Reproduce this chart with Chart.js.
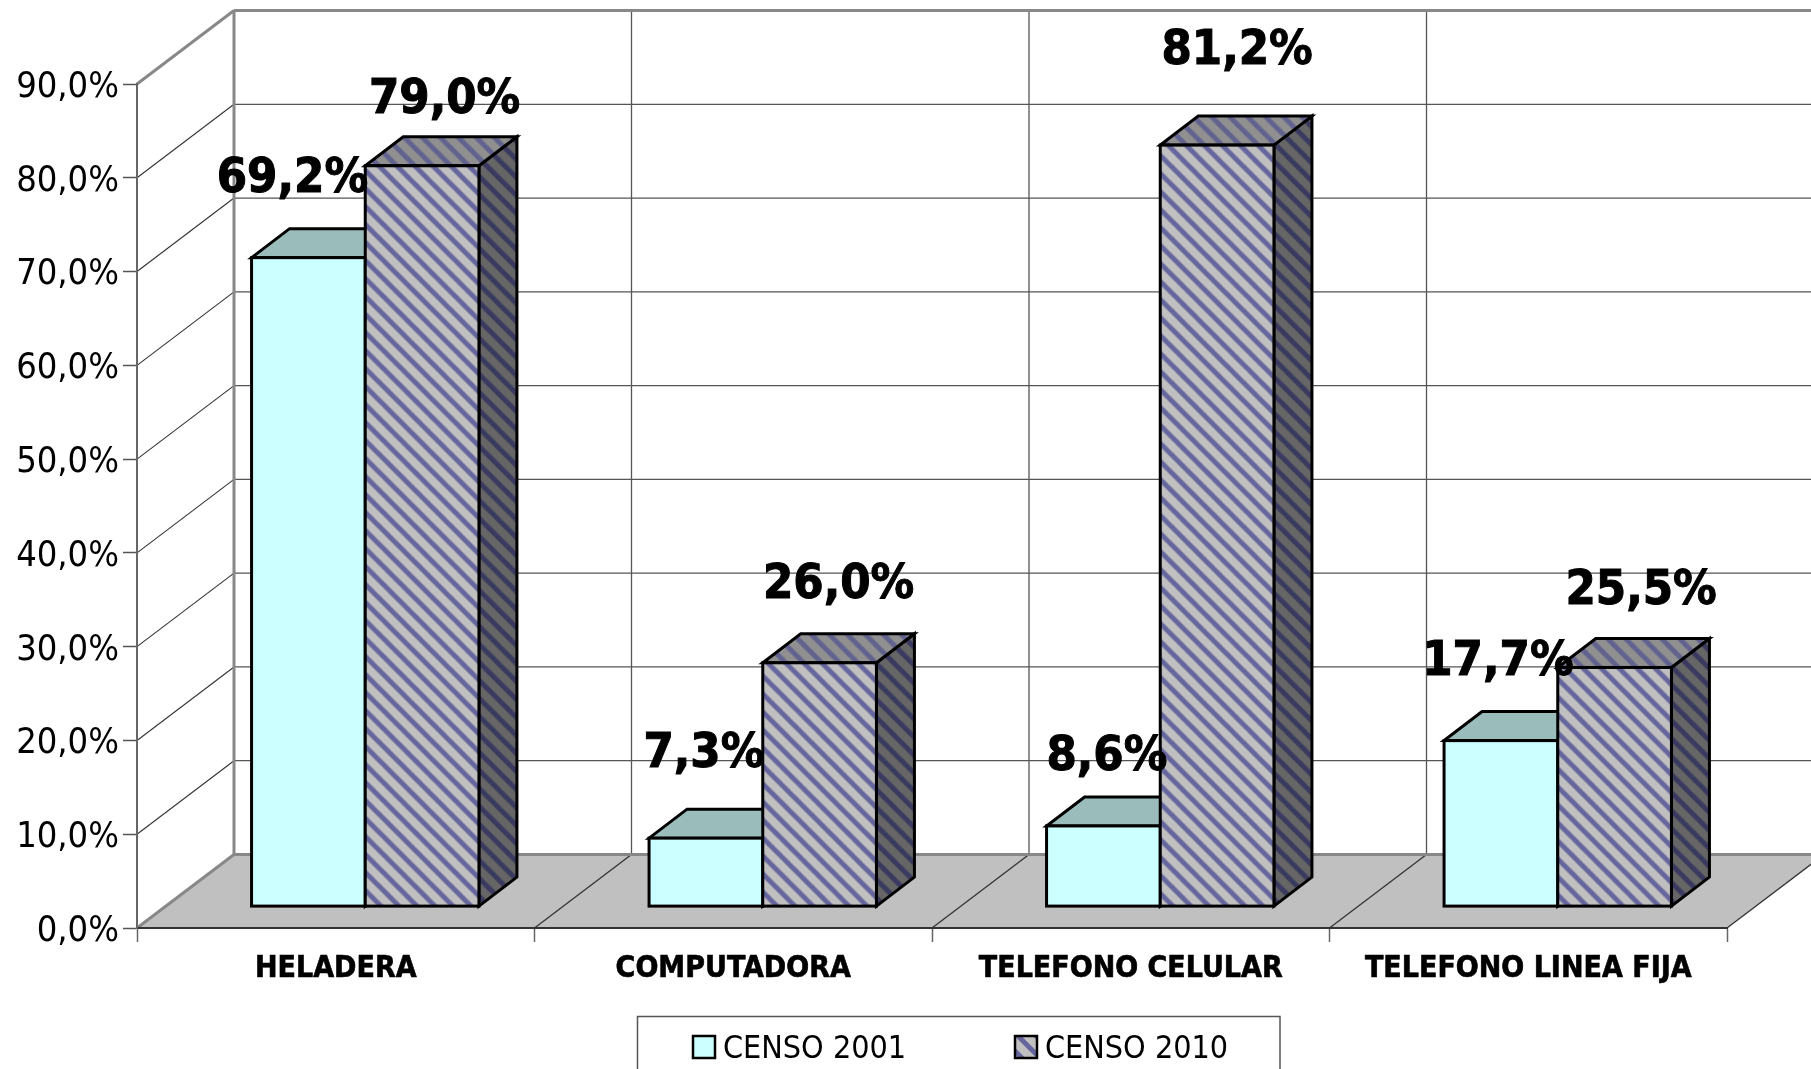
<!DOCTYPE html>
<html>
<head>
<meta charset="utf-8">
<style>html,body{margin:0;padding:0;background:#fff;overflow:hidden}canvas{display:block}</style>
<script src="https://cdn.jsdelivr.net/npm/chart.js@4/dist/chart.umd.min.js"></script>
</head>
<body>
<canvas id="c" width="1811" height="1069"></canvas>
<script>
const categories = ['HELADERA', 'COMPUTADORA', 'TELEFONO CELULAR', 'TELEFONO LINEA FIJA'];
const seriesNames = ['CENSO 2001', 'CENSO 2010'];
const censo2001 = [69.2, 7.3, 8.6, 17.7];
const censo2010 = [79.0, 26.0, 81.2, 25.5];
const yTicks = [0, 10, 20, 30, 40, 50, 60, 70, 80, 90];

const FONT = '"DejaVu Sans Condensed","DejaVu Sans",sans-serif';
const WALL = {dx: 97, dy: -73.5};
const BAR = {dx: 38, dy: -29};
const SHIFT = {dx: 29.5, dy: -21.4};
const LABEL_NUDGE = [
  [[-16,-78],[-2,-84],[3.5,-69],[-3,-78]],
  [[22.5,-65],[19,-77],[20,-94],[26.5,-76]]
];
const pct = v => v.toFixed(1).replace('.', ',') + '%';

function stripes(bg, fg) {
  const n = 18, p = document.createElement('canvas');
  p.width = n; p.height = n;
  const g = p.getContext('2d');
  g.fillStyle = bg; g.fillRect(0, 0, n, n);
  g.strokeStyle = fg; g.lineWidth = 4.8;
  for (const o of [-n, 0, n]) {
    g.beginPath(); g.moveTo(o - 2, -2); g.lineTo(o + n + 2, n + 2); g.stroke();
  }
  return document.getElementById('c').getContext('2d').createPattern(p, 'repeat');
}
const pFront = stripes('#c0c0c0', '#66669f');
const pTop = stripes('#909090', '#62628f');
const pSide = stripes('#666666', '#3a3a60');

const faces = [
  {top: '#9abdbb', side: '#7a9999'},
  {top: pTop, side: pSide}
];

function poly(ctx, pts, fill, stroke, lw) {
  ctx.beginPath();
  pts.forEach((p, i) => i ? ctx.lineTo(p[0], p[1]) : ctx.moveTo(p[0], p[1]));
  ctx.closePath();
  if (fill) { ctx.fillStyle = fill; ctx.fill(); }
  if (stroke) { ctx.strokeStyle = stroke; ctx.lineWidth = lw; ctx.lineJoin = 'miter'; ctx.stroke(); }
}
function seg(ctx, a, b, c, d, col, lw) {
  ctx.beginPath(); ctx.moveTo(a, b); ctx.lineTo(c, d);
  ctx.strokeStyle = col; ctx.lineWidth = lw; ctx.stroke();
}

const box3d = {
  id: 'box3d',
  beforeDraw(chart) {
    const ctx = chart.ctx, x = chart.scales.x, y = chart.scales.y;
    const W = chart.width, x0 = x.left, x1 = x.right, y0 = y.getPixelForValue(0);
    if (!y._labelsNudged) {
      y.getLabelItems().forEach(it => { it.options.translation[1] += 3.5; });
      y._labelsNudged = true;
    }
    ctx.save();
    poly(ctx, [[x0,y0],[x1,y0],[x1+WALL.dx,y0+WALL.dy],[x0+WALL.dx,y0+WALL.dy]], '#c0c0c0');
    yTicks.forEach(v => {
      const py = y.getPixelForValue(v);
      if (v > 0 && v < 90) {
        seg(ctx, x0+WALL.dx, py+WALL.dy, W, py+WALL.dy, '#555', 1.3);
        seg(ctx, x0, py, x0+WALL.dx, py+WALL.dy, '#333', 1.1);
      }
    });
    for (let i = 1; i <= categories.length; i++) {
      const px = x0 + i * (x1 - x0) / categories.length;
      if (i < categories.length) {
        seg(ctx, px+WALL.dx, y.getPixelForValue(90)+WALL.dy, px+WALL.dx, y0+WALL.dy, '#555', 1.3);
      }
      seg(ctx, px, y0, px+WALL.dx, y0+WALL.dy, '#333', 1.3);
    }
    const top = y.getPixelForValue(90);
    seg(ctx, x0+WALL.dx, y0+WALL.dy, W, y0+WALL.dy, '#888', 3);
    seg(ctx, x0+WALL.dx, top+WALL.dy, W, top+WALL.dy, '#888', 3);
    seg(ctx, x0+WALL.dx, top+WALL.dy, x0+WALL.dx, y0+WALL.dy, '#888', 3);
    seg(ctx, x0, top, x0+WALL.dx, top+WALL.dy, '#888', 3);
    seg(ctx, x0, y0, x0+WALL.dx, y0+WALL.dy, '#888', 3);
    ctx.restore();
  },
  beforeDatasetsDraw(chart) {
    const ctx = chart.ctx;
    ctx.save();
    ctx.translate(SHIFT.dx, SHIFT.dy);
    chart.data.datasets.forEach((ds, d) => {
      const meta = chart.getDatasetMeta(d), f = faces[d];
      meta.data.forEach(el => {
        const {x, y, base, width} = el.getProps(['x','y','base','width'], true);
        const l = x - width/2, r = x + width/2;
        poly(ctx, [[r,base],[r+BAR.dx,base+BAR.dy],[r+BAR.dx,y+BAR.dy],[r,y]], f.side, '#000', 3);
        poly(ctx, [[l,y],[r,y],[r+BAR.dx,y+BAR.dy],[l+BAR.dx,y+BAR.dy]], f.top, '#000', 3);
      });
      meta.controller.draw();
      meta.data.forEach(el => {
        const {x, y, base, width} = el.getProps(['x','y','base','width'], true);
        ctx.strokeStyle = '#000'; ctx.lineWidth = 3;
        ctx.strokeRect(x - width/2, y, width, base - y);
      });
    });
    ctx.restore();
    return false;
  },
  afterDraw(chart) {
    const ctx = chart.ctx;
    ctx.save();
    ctx.font = 'bold 48.5px ' + FONT;
    ctx.fillStyle = '#000';
    ctx.strokeStyle = '#000';
    ctx.lineWidth = 1;
    ctx.textAlign = 'center';
    ctx.textBaseline = 'middle';
    chart.data.datasets.forEach((ds, d) => {
      chart.getDatasetMeta(d).data.forEach((el, i) => {
        const n = LABEL_NUDGE[d][i], s = pct(ds.data[i]);
        ctx.fillText(s, el.x + SHIFT.dx + n[0], el.y + SHIFT.dy + n[1]);
        ctx.strokeText(s, el.x + SHIFT.dx + n[0], el.y + SHIFT.dy + n[1]);
      });
    });
    const lx = 637.5, ly = 1016.5;
    ctx.strokeStyle = '#555'; ctx.lineWidth = 1.5;
    ctx.strokeRect(lx, ly, 642.5, 100);
    ctx.font = '32px ' + FONT;
    ctx.textAlign = 'left';
    const swatchX = [693, 1015], swatchFill = ['#ccffff', pFront];
    seriesNames.forEach((name, i) => {
      ctx.fillStyle = swatchFill[i];
      ctx.fillRect(swatchX[i], 1036, 22, 22);
      ctx.strokeStyle = '#000'; ctx.lineWidth = 2.5;
      ctx.strokeRect(swatchX[i], 1036, 22, 22);
      ctx.fillStyle = '#000';
      ctx.fillText(name, swatchX[i] + 30, 1050);
    });
    ctx.restore();
  }
};

new Chart(document.getElementById('c'), {
  type: 'bar',
  data: {
    labels: categories,
    datasets: [
      {label: seriesNames[0], data: censo2001, backgroundColor: '#ccffff', borderWidth: 0, clip: false},
      {label: seriesNames[1], data: censo2010, backgroundColor: pFront, borderWidth: 0, clip: false}
    ]
  },
  options: {
    responsive: false,
    animation: false,
    devicePixelRatio: 1,
    layout: {autoPadding: false, padding: {top: 84, left: 0, right: 84, bottom: 0}},
    categoryPercentage: 0.572,
    barPercentage: 1,
    plugins: {legend: {display: false}, tooltip: {enabled: false}, title: {display: false}},
    scales: {
      x: {
        type: 'category',
        afterFit(s) { s.height = 141; },
        border: {display: true, color: '#333', width: 2},
        grid: {drawOnChartArea: false, drawTicks: true, tickLength: 14, tickColor: '#666', tickWidth: 1.5},
        ticks: {color: '#000', padding: 9, maxRotation: 0, minRotation: 0, textStrokeColor: '#000', textStrokeWidth: 0.6,
                font: {family: FONT, weight: 'bold', size: 30}}
      },
      y: {
        min: 0, max: 90,
        afterFit(s) { s.width = 137; },
        border: {display: true, color: '#666', width: 2},
        grid: {drawOnChartArea: false, drawTicks: true, tickLength: 14, tickColor: '#555', tickWidth: 1.5},
        ticks: {color: '#000', stepSize: 10, padding: 4, font: {family: FONT, size: 36}, callback: v => pct(v)}
      }
    }
  },
  plugins: [box3d]
});
</script>
</body>
</html>
